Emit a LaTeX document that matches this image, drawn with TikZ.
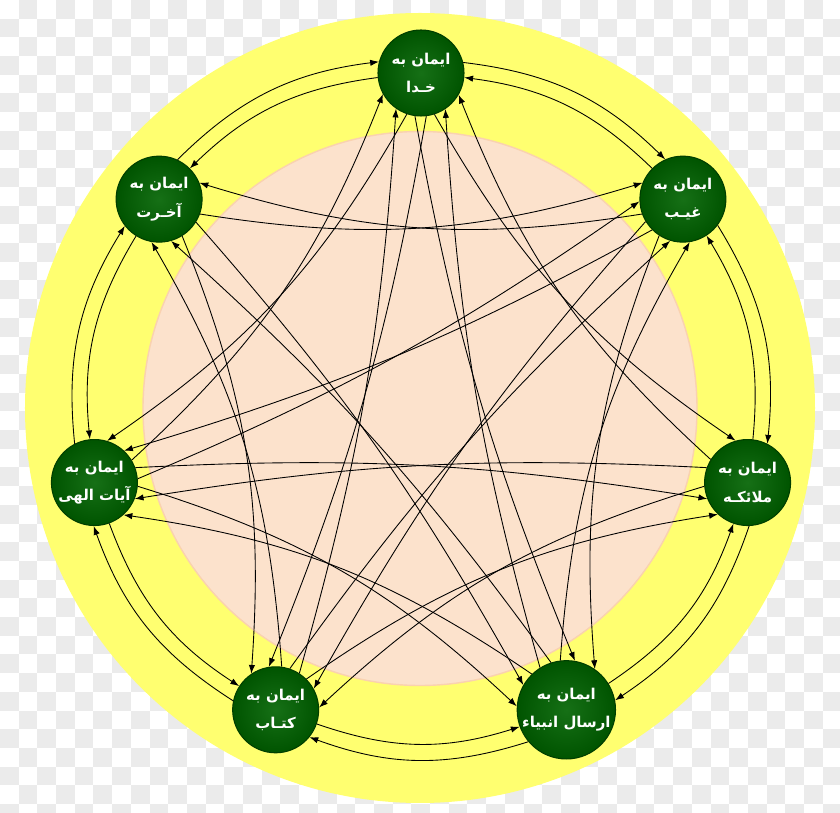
\documentclass[tikz,border=0pt]{standalone}
\usepackage{fontspec}
\newfontfamily\arabicfont[Script=Arabic]{DejaVu Sans}
\TeXXeTstate=1
\usetikzlibrary{arrows.meta}
\definecolor{checkgrey}{RGB}{235,235,235}
\definecolor{ringyellow}{RGB}{255,255,112}
\definecolor{peach}{RGB}{252,226,204}
\definecolor{peachedge}{RGB}{250,210,175}
\definecolor{beliefin}{RGB}{22,112,22}
\definecolor{beliefout}{RGB}{0,84,0}
\definecolor{beliefedge}{RGB}{0,62,0}
\newcommand{\fa}[1]{\beginR #1\endR}
% arrow across the ring: leaves 20 deg nearer the middle, comes in 22 deg away from it, bent by #5 towards the middle
\newcommand{\linkarrow}[5]{%
	\pgfmathsetmacro{\lkgap}{mod(#4-#2+720,360)}%
	\pgfmathsetmacro{\lkside}{\lkgap<180 ? 1 : -1}%
	\pgfmathsetmacro{\lkout}{#2+\lkgap/2+90+\lkside*20}%
	\pgfmathsetmacro{\lkin}{#2+\lkgap/2+270+\lkside*22}%
	\pgfmathsetmacro{\lkbend}{\lkside*#5}%
	\draw (#1.\lkout) to[bend left=\lkbend] (#3.\lkin);%
}
\tikzset{
	belief/.style={circle, inner sep=0pt, minimum size=1.72cm, draw=beliefedge, line width=0.6pt, inner color=beliefin, outer color=beliefout, text=white, align=center, font=\arabicfont\bfseries\fontsize{8.5}{16}\selectfont},
	% squares of the see-through backdrop
	check/.style={fill=checkgrey, draw=none},
}

\begin{document}
\begin{tikzpicture}
	\useasboundingbox (-8.42,-8.10) rectangle (8.38,8.16);
	\foreach \i in {0,...,44} {
		\foreach \j in {0,...,43} {
			\pgfmathparse{int(mod(\i+\j,2))}
			\ifnum\pgfmathresult=1
				\fill[check] (-8.42+\i*0.374,8.16-\j*0.374) rectangle ++(0.374,-0.374);
			\fi
		}
	}
	\fill[ringyellow] (-0.02,0) circle (7.9);
	\filldraw[fill=peach, draw=peachedge, line width=0.8pt] (-0.02,-0.01) circle (5.54);

	\node (khoda) [belief] at (90:6.7) {\fa{ایمان به}\\\fa{خـدا}};
	\node (gheyb) [belief] at (38.571:6.7) {\fa{ایمان به}\\\fa{غیـب}};
	\node (malaekeh) [belief] at (-12.857:6.7) {\fa{ایمان به}\\\fa{ملائکـه}};
	\node (anbiya) [belief] at (-64.286:6.7) {\fa{ایمان به}\\\fa{ارسال انبیاء}};
	\node (ketab) [belief] at (-115.714:6.7) {\fa{ایمان به}\\\fa{کتـاب}};
	\node (ayat) [belief] at (-167.143:6.7) {\fa{ایمان به}\\\fa{آیات الهی}};
	\node (akherat) [belief] at (141.429:6.7) {\fa{ایمان به}\\\fa{آخـرت}};

	\begin{scope}[line width=0.5pt, black, ->, >={Latex[length=5pt,width=3.6pt]}]
		% outer ring, clockwise
		\draw (khoda.14.1) to[bend left=18.8] (gheyb.114.5);
		\draw (gheyb.-37.3) to[bend left=18.8] (malaekeh.63);
		\draw (malaekeh.-88.8) to[bend left=18.8] (anbiya.11.6);
		\draw (anbiya.-140.2) to[bend left=18.8] (ketab.-39.8);
		\draw (ketab.168.4) to[bend left=18.8] (ayat.-91.2);
		\draw (ayat.117) to[bend left=18.8] (akherat.-142.7);
		\draw (akherat.65.5) to[bend left=18.8] (khoda.165.9);
		% inner ring, counter-clockwise
		\draw (gheyb.135) to[bend right=18.3] (khoda.-6.4);
		\draw (malaekeh.83.5) to[bend right=18.3] (gheyb.-57.8);
		\draw (anbiya.32.1) to[bend right=18.3] (malaekeh.-109.3);
		\draw (ketab.-19.3) to[bend right=18.3] (anbiya.-160.7);
		\draw (ayat.-70.7) to[bend right=18.3] (ketab.147.9);
		\draw (akherat.-122.2) to[bend right=18.3] (ayat.96.5);
		\draw (khoda.186.4) to[bend right=18.3] (akherat.45);
		% skipping one
		\linkarrow{khoda}{90}{malaekeh}{-12.857}{13}
		\linkarrow{malaekeh}{-12.857}{khoda}{90}{13}
		\linkarrow{gheyb}{38.571}{anbiya}{-64.286}{13}
		\linkarrow{anbiya}{-64.286}{gheyb}{38.571}{13}
		\linkarrow{malaekeh}{-12.857}{ketab}{-115.714}{13}
		\linkarrow{ketab}{-115.714}{malaekeh}{-12.857}{13}
		\linkarrow{anbiya}{-64.286}{ayat}{-167.143}{13}
		\linkarrow{ayat}{-167.143}{anbiya}{-64.286}{13}
		\linkarrow{ketab}{-115.714}{akherat}{141.429}{13}
		\linkarrow{akherat}{141.429}{ketab}{-115.714}{13}
		\linkarrow{ayat}{-167.143}{khoda}{90}{13}
		\linkarrow{khoda}{90}{ayat}{-167.143}{13}
		\linkarrow{akherat}{141.429}{gheyb}{38.571}{13}
		\linkarrow{gheyb}{38.571}{akherat}{141.429}{13}
		% skipping two
		\linkarrow{khoda}{90}{anbiya}{-64.286}{6}
		\linkarrow{anbiya}{-64.286}{khoda}{90}{6}
		\linkarrow{gheyb}{38.571}{ketab}{-115.714}{6}
		\linkarrow{ketab}{-115.714}{gheyb}{38.571}{6}
		\linkarrow{malaekeh}{-12.857}{ayat}{-167.143}{6}
		\linkarrow{ayat}{-167.143}{malaekeh}{-12.857}{6}
		\linkarrow{anbiya}{-64.286}{akherat}{141.429}{6}
		\linkarrow{akherat}{141.429}{anbiya}{-64.286}{6}
		\linkarrow{ketab}{-115.714}{khoda}{90}{6}
		\linkarrow{khoda}{90}{ketab}{-115.714}{6}
		\linkarrow{ayat}{-167.143}{gheyb}{38.571}{6}
		\linkarrow{gheyb}{38.571}{ayat}{-167.143}{6}
	\end{scope}
\end{tikzpicture}
\end{document}
